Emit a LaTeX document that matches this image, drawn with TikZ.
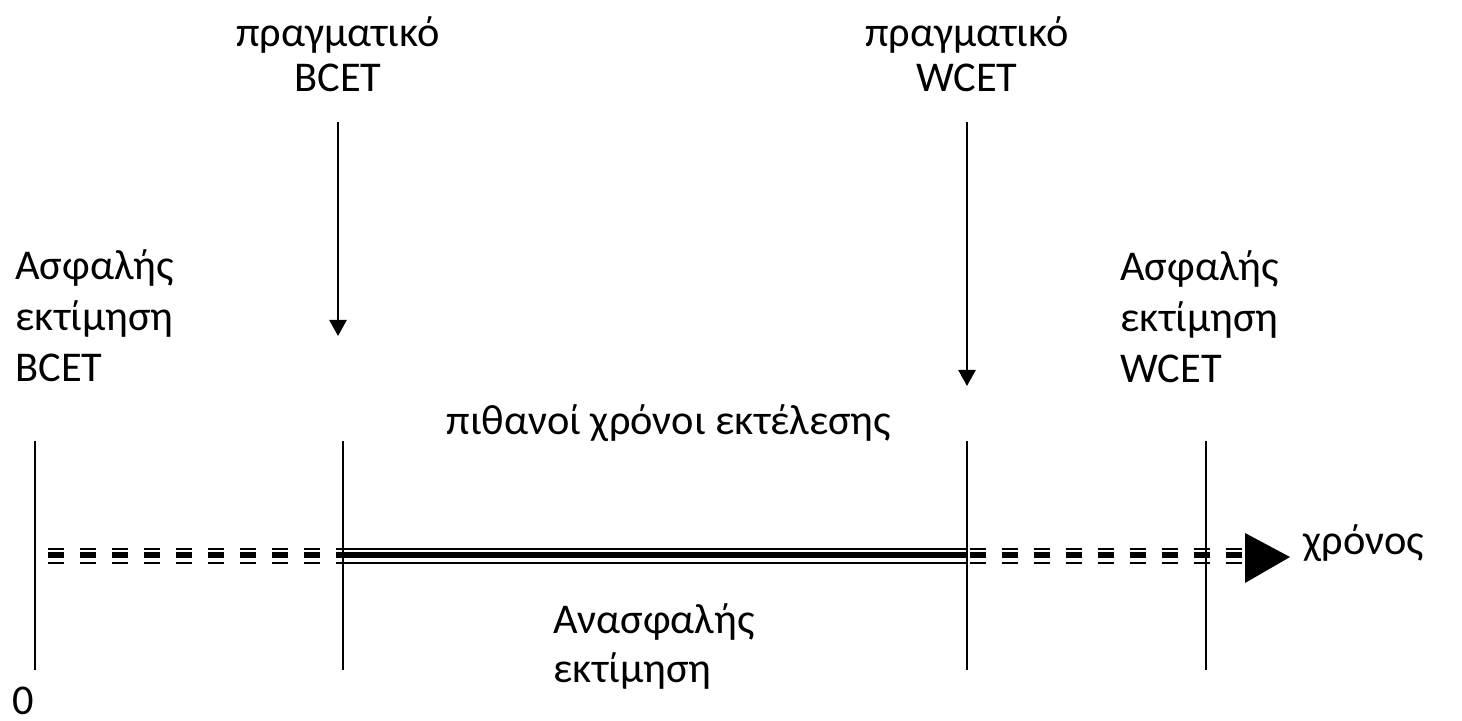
\documentclass[tikz,border=0pt]{standalone}
\usepackage{fontspec}
\setmainfont{Carlito}
\usetikzlibrary{arrows.meta}
\begin{document}
\begin{tikzpicture}[x=0.5pt,y=-0.5pt,
  lbl/.style={inner sep=0pt,font=\fontsize{21.2}{22.5}\selectfont},
  vline/.style={line width=1pt},
  darrow/.style={line width=1.3pt,-{Triangle[width=8.5pt,length=8pt]}},
  thinline/.style={line width=1pt},
  thickline/.style={line width=3pt},
  dashpat/.style={dash pattern=on 8pt off 8pt}]
\useasboundingbox (0,0) rectangle (1462,721);
% labels (anchor base = baseline of the last line)
\node[lbl,align=center,anchor=base,font=\fontsize{21.2}{22.5}\selectfont] (rb) at (338,92) {πραγματικό\\BCET};
\node[lbl,align=center,anchor=base,font=\fontsize{21.2}{22.5}\selectfont] (rw) at (967,92) {πραγματικό\\WCET};
\node[lbl,align=left,anchor=base west,font=\fontsize{21.2}{25.5}\selectfont] (sb) at (15,382) {Ασφαλής\\εκτίμηση\\BCET};
\node[lbl,align=left,anchor=base west,font=\fontsize{21.2}{25.5}\selectfont] (sw) at (1120,383) {Ασφαλής\\εκτίμηση\\WCET};
\node[lbl,anchor=base] (pt) at (669,435) {πιθανοί χρόνοι εκτέλεσης};
\node[lbl,align=left,anchor=base west,font=\fontsize{21.2}{24.5}\selectfont] (ua) at (553,682) {Ανασφαλής\\εκτίμηση};
\node[lbl,anchor=base west] (zero) at (12,714) {0};
\node[lbl,anchor=base west] (time) at (1303,554) {χρόνος};
% arrows
\coordinate (ab0) at (338,122); \coordinate (ab1) at (338,336);
\coordinate (aw0) at (967,122); \coordinate (aw1) at (967,386);
\draw[darrow] (ab0) -- (ab1);
\draw[darrow] (aw0) -- (aw1);
% vertical lines
\foreach \n/\x in {v0/35,v1/343,v2/967,v3/1206}{
  \coordinate (\n t) at (\x,441); \coordinate (\n b) at (\x,670);
  \draw[vline] (\n t) -- (\n b);
}
% time axis
\foreach \y/\st in {549.3/thinline,554.8/thickline,562.5/thinline}{
  \draw[\st,dashpat] (48,\y) -- (337,\y);
  \draw[\st] (337,\y) -- (967,\y);
  \draw[\st,dashpat] (970,\y) -- (1245,\y);
}
\fill (1245,533) -- (1290,557) -- (1245,583) -- cycle;
\end{tikzpicture}
\end{document}
